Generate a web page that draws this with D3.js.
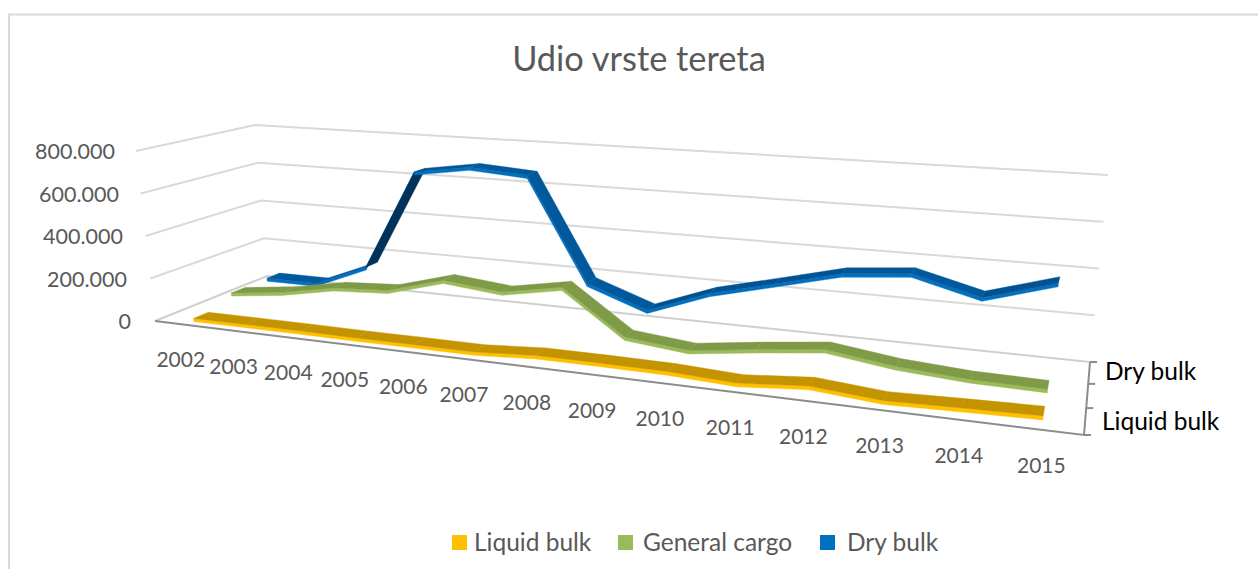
<!DOCTYPE html>
<html>
<head>
<meta charset="utf-8">
<title>Udio vrste tereta</title>
<script src="https://cdn.jsdelivr.net/npm/d3@7"></script>
<style>
  html, body { margin: 0; padding: 0; background: #fff; }
  svg { display: block; }
  text { font-family: Lato, "Open Sans", sans-serif; }
</style>
</head>
<body>
<svg id="chart" width="1258" height="569"></svg>
<script>
// values, in thousands
const years = ["2002","2003","2004","2005","2006","2007","2008","2009","2010","2011","2012","2013","2014","2015"];
const liquidBulk = [2, 3, 3, 2, 3, 3, 20, 20, 18, 5, 28, 5, 13, 20];
const generalCargo = [48, 79, 127, 143, 217, 190, 239, 46, 19, 55, 87, 49, 30, 26];
const dryBulk = [50, 51, 158, 650, 692, 672, 184, 87, 192, 262, 334, 360, 285, 374];
const seriesNames = ["Liquid bulk", "General cargo", "Dry bulk"];
const depthLabels = ["Liquid bulk", "Dry bulk"];
const valueTicks = [0, 200, 400, 600, 800];

const height = 569;
const svg = d3.select("#chart");

// corners of the 3d box on screen, floor and the 800.000 plane
const floorQuad = [[155, 321], [1084, 435], [1090, 362], [267, 276]];
const topQuad = [[136, 151], [1098.3, 217.3], [1108, 175], [255, 125]];

// unit square -> quad, perspective
function homography(q) {
  const sx = q[0][0] - q[1][0] + q[2][0] - q[3][0];
  const sy = q[0][1] - q[1][1] + q[2][1] - q[3][1];
  const dx1 = q[1][0] - q[2][0], dx2 = q[3][0] - q[2][0];
  const dy1 = q[1][1] - q[2][1], dy2 = q[3][1] - q[2][1];
  const det = dx1 * dy2 - dx2 * dy1;
  const g = (sx * dy2 - dx2 * sy) / det;
  const h = (dx1 * sy - sx * dy1) / det;
  return function(u, v) {
    const w = 1 + g * u + h * v;
    return [
      (q[0][0] + (q[1][0] - q[0][0] + g * q[1][0]) * u + (q[3][0] - q[0][0] + h * q[3][0]) * v) / w,
      (q[0][1] + (q[1][1] - q[0][1] + g * q[1][1]) * u + (q[3][1] - q[0][1] + h * q[3][1]) * v) / w
    ];
  };
}
const floorAt = homography(floorQuad);
const topAt = homography(topQuad);

const xScale = d3.scaleBand().domain(years).range([0, 1]);
const valueScale = d3.scaleLinear().domain([0, 800]).range([0, 1]);
const depthScale = d3.scaleBand().domain(seriesNames).range([0, 1]);
const labelGap = d3.scaleLinear().domain([0, 800]).range([24, 21]);

function project(u, v, value) {
  const a = floorAt(u, v), b = topAt(u, v), t = valueScale(value);
  return [a[0] + (b[0] - a[0]) * t, a[1] + (b[1] - a[1]) * t];
}
const line = d3.line();
const polygon = pts => line(pts) + "Z";

// frame, open on the right and at the bottom
svg.append("path")
  .attr("d", `M9,${height}V14.5H1258`)
  .attr("fill", "none")
  .attr("stroke", "#d9d9d9")
  .attr("stroke-width", 2);

// title
svg.append("text")
  .attr("x", 639).attr("y", 71)
  .attr("text-anchor", "middle")
  .attr("font-size", 34.4)
  .attr("fill", "#595959")
  .text("Udio vrste tereta");

// gridlines on left and back wall
valueTicks.forEach(t => {
  svg.append("path")
    .attr("d", line([project(0, 0, t), project(0, 1, t), project(1, 1, t)]))
    .attr("fill", "none")
    .attr("stroke", t === 0 ? "#cfcfcf" : "#d9d9d9")
    .attr("stroke-width", 2);
  const p = project(0, 0, t);
  svg.append("text")
    .attr("x", p[0] - labelGap(t)).attr("y", p[1] + 8)
    .attr("text-anchor", "end")
    .attr("font-size", 21.5)
    .attr("fill", "#595959")
    .text(t === 0 ? "0" : d3.format(",.0f")(t * 1000).replace(/,/g, "."));
});

// floor front edge and depth axis
svg.append("path")
  .attr("d", line([project(0, 0, 0), project(1, 0, 0), project(1, 1, 0)]))
  .attr("fill", "none")
  .attr("stroke", "#8c8c8c")
  .attr("stroke-width", 2);
depthScale.domain().concat("end").forEach((d, i) => {
  const p = project(1, i / 3, 0);
  svg.append("path")
    .attr("d", line([p, [p[0] + 7, p[1]]]))
    .attr("stroke", "#8c8c8c")
    .attr("stroke-width", 2);
});

// year labels
years.forEach(y => {
  const p = project(xScale(y) + xScale.bandwidth() / 2, 0, 0);
  svg.append("text")
    .attr("x", p[0]).attr("y", p[1] + 43)
    .attr("text-anchor", "middle")
    .attr("font-size", 21)
    .attr("fill", "#595959")
    .text(y);
});

// depth labels
svg.append("text").attr("x", 1102).attr("y", 430).attr("font-size", 24.5).attr("fill", "#000").text(depthLabels[0]);
svg.append("text").attr("x", 1105).attr("y", 380).attr("font-size", 24.5).attr("fill", "#000").text(depthLabels[1]);

// ribbons, back to front
const ribbonWidth = 0.125;
const thickness = 15;
const ribbons = [
  { name: "Dry bulk", values: dryBulk, front: "#0070c0", top: "#00599c", dark: "#00325a" },
  { name: "General cargo", values: generalCargo, front: "#9bbb59", top: "#7f9b48", dark: "#6c8538" },
  { name: "Liquid bulk", values: liquidBulk, front: "#ffc000", top: "#c49400", dark: "#b98c00" }
];
const slopeScale = d3.scaleLinear().domain([0, 480]).range([0, 1]).clamp(true);

ribbons.forEach(s => {
  const v0 = depthScale(s.name) + depthScale.bandwidth() / 2 - ribbonWidth / 2;
  const v1 = v0 + ribbonWidth;
  const shade = d3.interpolateRgb(s.top, s.dark);
  const g = svg.append("g");
  for (let i = 0; i < years.length - 1; i++) {
    const ua = xScale(years[i]) + xScale.bandwidth() / 2;
    const ub = xScale(years[i + 1]) + xScale.bandwidth() / 2;
    const a = s.values[i], b = s.values[i + 1];
    g.append("path")
      .attr("d", polygon([project(ua, v0, a), project(ub, v0, b), project(ub, v0, b - thickness), project(ua, v0, a - thickness)]))
      .attr("fill", s.front).attr("stroke", s.front).attr("stroke-width", 0.4);
    const c = shade(slopeScale(b - a));
    g.append("path")
      .attr("d", polygon([project(ua, v0, a), project(ub, v0, b), project(ub, v1, b), project(ua, v1, a)]))
      .attr("fill", c).attr("stroke", c).attr("stroke-width", 0.4);
  }
});

// legend
const legendX = [452, 618, 820];
const legendTextX = [474, 643, 847];
seriesNames.forEach((d, i) => {
  svg.append("rect")
    .attr("x", legendX[i]).attr("y", 535)
    .attr("width", 15).attr("height", 15)
    .attr("fill", ["#ffc000", "#9bbb59", "#0070c0"][i]);
  svg.append("text")
    .attr("x", legendTextX[i]).attr("y", 551)
    .attr("font-size", 24.5)
    .attr("fill", "#595959")
    .text(d);
});
</script>
</body>
</html>
